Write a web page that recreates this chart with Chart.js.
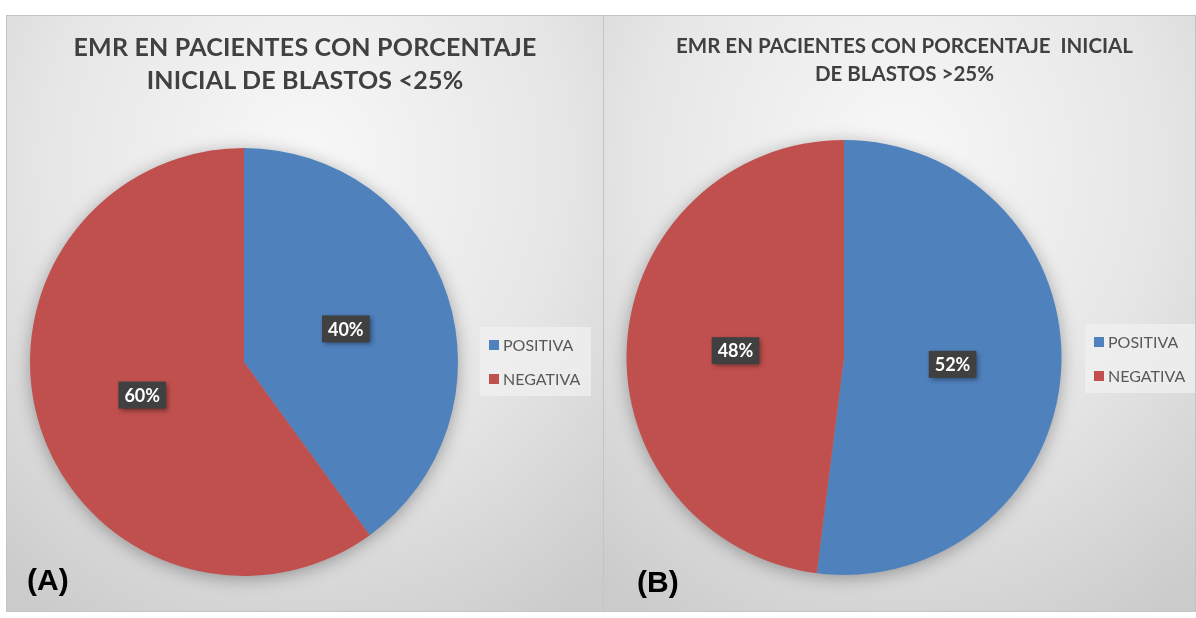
<!DOCTYPE html>
<html>
<head>
<meta charset="utf-8">
<script src="https://cdn.jsdelivr.net/npm/chart.js@4"></script>
<style>
  body { margin: 0; background: #fff; width: 1196px; height: 618px; position: relative; overflow: hidden; }
  .panel { position: absolute; top: 15px; height: 597px; border: 1px solid #c4c4c4; box-sizing: border-box;
           background: radial-gradient(ellipse 80% 90% at 50% 25%, #f8f8f8 0%, #e6e6e6 55%, #cbcbcb 100%); }
  #pA { left: 6px; width: 598px; }
  #pB { left: 603px; width: 593px; }
  .panel canvas { position: absolute; left: 0; top: 0; }
  .title { position: absolute; left: 0; right: 0; text-align: center; color: #404040; font-family: Lato, sans-serif; font-weight: bold; }
  #tA { top: 14px; font-size: 25px; line-height: 33px; letter-spacing: 0.2px; }
  #tB { top: 15px; font-size: 20.5px; line-height: 28px; }
  .tag { position: absolute; font-family: "Liberation Sans", Arial, sans-serif; font-weight: bold; font-size: 30px; color: #000; }
</style>
</head>
<body>
<div class="panel" id="pA">
  <canvas id="chartA" width="596" height="595"></canvas>
  <div class="title" id="tA">EMR EN PACIENTES CON PORCENTAJE<br>INICIAL DE BLASTOS &lt;25%</div>
  <div class="tag" style="left:20px; top:547px;">(A)</div>
</div>
<div class="panel" id="pB">
  <canvas id="chartB" width="591" height="595"></canvas>
  <div class="title" id="tB" style="padding-left:10px;">EMR EN PACIENTES CON PORCENTAJE&nbsp; INICIAL<br>DE BLASTOS &gt;25%</div>
  <div class="tag" style="left:33px; top:549px;">(B)</div>
</div>
<script>
const categories = ['POSITIVA', 'NEGATIVA'];
const valuesA = [40, 60];
const valuesB = [52, 48];
const colors = ['#4F81BD', '#C0504D'];

// soft shadow under the pie + data label boxes
const pieDecor = {
  id: 'pieDecor',
  beforeDatasetsDraw(chart) {
    const arc = chart.getDatasetMeta(0).data[0];
    const ctx = chart.ctx;
    ctx.save();
    ctx.shadowColor = 'rgba(0,0,0,0.35)';
    ctx.shadowBlur = 18;
    ctx.shadowOffsetY = 3;
    ctx.fillStyle = '#999';
    ctx.beginPath();
    ctx.arc(arc.x, arc.y, arc.outerRadius - 1, 0, Math.PI * 2);
    ctx.fill();
    ctx.restore();
  },
  afterDatasetsDraw(chart) {
    const ctx = chart.ctx;
    const ds = chart.data.datasets[0];
    chart.getDatasetMeta(0).data.forEach((a, i) => {
      const mid = (a.startAngle + a.endAngle) / 2;
      const r = a.outerRadius * 0.5;
      const x = a.x + Math.cos(mid) * r, y = a.y + Math.sin(mid) * r;
      const txt = ds.data[i] + '%';
      ctx.save();
      ctx.font = 'bold 18px Lato, sans-serif';
      const w = ctx.measureText(txt).width + 12, h = 27;
      ctx.shadowColor = 'rgba(0,0,0,0.45)';
      ctx.shadowBlur = 5;
      ctx.shadowOffsetX = 2;
      ctx.shadowOffsetY = 2;
      ctx.fillStyle = '#404040';
      ctx.fillRect(x - w / 2, y - h / 2, w, h);
      ctx.restore();
      ctx.save();
      ctx.font = 'bold 18px Lato, sans-serif';
      ctx.fillStyle = '#fff';
      ctx.textAlign = 'center';
      ctx.textBaseline = 'middle';
      ctx.fillText(txt, x, y + 1);
      ctx.restore();
    });
  }
};

// legend box to the right of the pie
const boxLegend = {
  id: 'boxLegend',
  afterDraw(chart) {
    const o = chart.options.plugins.boxLegend;
    const ctx = chart.ctx;
    ctx.save();
    ctx.fillStyle = 'rgba(240,240,240,0.75)';
    ctx.fillRect(o.x, o.y, o.w, o.h);
    ctx.font = '16px Lato, sans-serif';
    ctx.textBaseline = 'middle';
    chart.data.labels.forEach((lab, i) => {
      const cy = o.y + 18 + i * 34;
      ctx.fillStyle = chart.data.datasets[0].backgroundColor[i];
      ctx.fillRect(o.x + 9, cy - 5, 10, 10);
      ctx.fillStyle = '#595959';
      ctx.fillText(lab, o.x + 23, cy + 1);
    });
    ctx.restore();
  }
};

function makePie(id, values, pad, legendBox) {
  return new Chart(document.getElementById(id), {
    type: 'pie',
    data: { labels: categories, datasets: [{ data: values, backgroundColor: colors, borderWidth: 0 }] },
    options: {
      responsive: false,
      animation: false,
      layout: { padding: pad },
      plugins: { legend: { display: false }, tooltip: { enabled: false }, boxLegend: legendBox }
    },
    plugins: [pieDecor, boxLegend]
  });
}

makePie('chartA', valuesA, { left: 20, right: 142, top: 132, bottom: 35 }, { x: 473, y: 311, w: 111, h: 69 });
makePie('chartB', valuesB, { left: 22, right: 133, top: 124, bottom: 36 }, { x: 481, y: 308, w: 110, h: 69 });
</script>
</body>
</html>
